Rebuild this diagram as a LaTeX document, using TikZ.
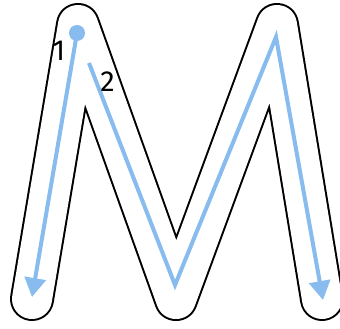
\documentclass[tikz,border=0pt]{standalone}
\usepackage{fontspec}
\setmainfont{Fira Sans}
\usetikzlibrary{arrows.meta}
\definecolor{trace}{HTML}{88BBEE}
\begin{document}
\begin{tikzpicture}[x=1pt,y=-1pt,
  outerstroke/.style={line width=44pt, line cap=round, line join=round, draw=black},
  innerstroke/.style={line width=40pt, line cap=round, line join=round, draw=white},
  tracepath/.style={draw=trace, line width=4pt, line join=miter, -{Triangle[length=19pt,width=21pt]}},
  lbl/.style={font=\fontsize{29}{29}\selectfont, inner sep=0pt}]
\useasboundingbox (0,0) rectangle (340,329);
% outline centerline
\coordinate (a) at (32,299);
\coordinate (b) at (78,25);
\coordinate (c) at (176,299);
\coordinate (d) at (277,25);
\coordinate (e) at (322,299);
\draw[outerstroke] (a)--(b)--(c)--(d)--(e);
\draw[innerstroke] (a)--(b)--(c)--(d)--(e);
% stroke 1
\coordinate (s1) at (77,33);
\coordinate (t1) at (32,297);
\fill[trace] (s1) circle (8pt);
\draw[tracepath] (s1) -- (t1);
% stroke 2
\coordinate (s2) at (89,63);
\coordinate (v2) at (175,285);
\coordinate (p2) at (276,37);
\coordinate (t2) at (323,300);
\draw[tracepath] (s2) -- (v2) -- (p2) -- (t2);
\node[lbl] (l1) at (59,51) {1};
\node[lbl] (l2) at (107.5,82) {2};
\end{tikzpicture}
\end{document}
